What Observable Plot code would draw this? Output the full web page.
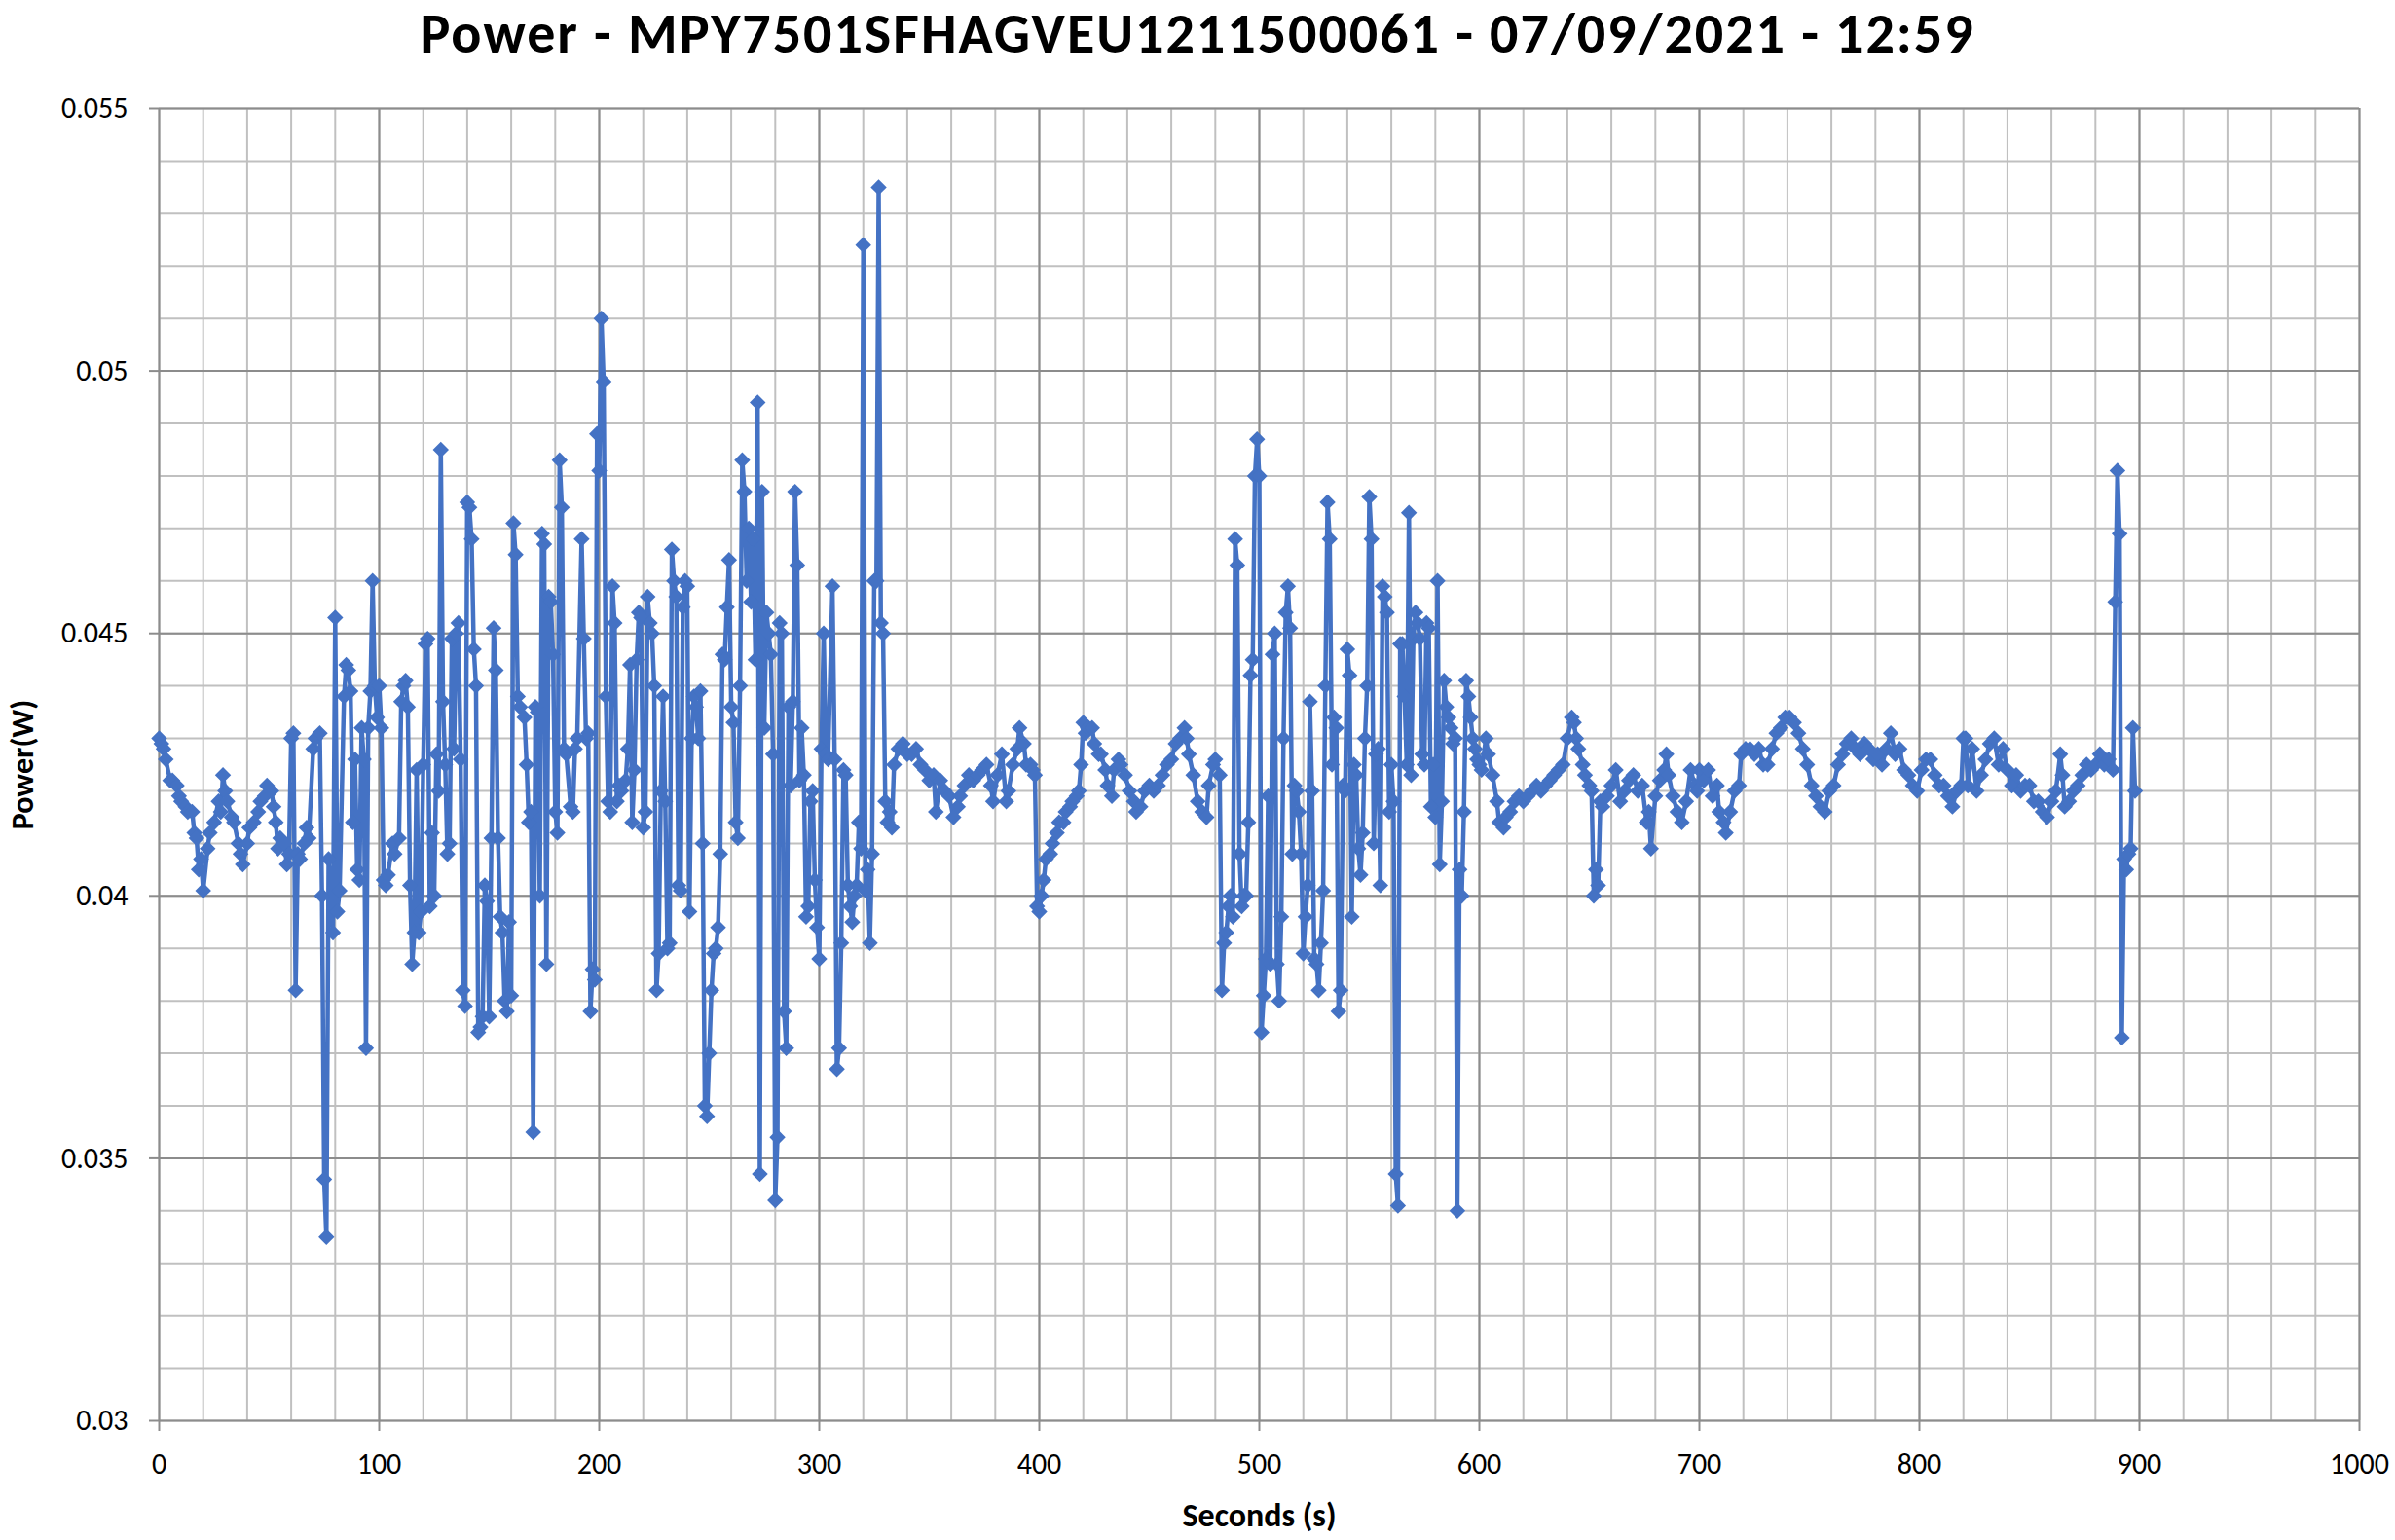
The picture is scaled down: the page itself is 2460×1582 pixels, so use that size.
<!DOCTYPE html>
<html>
<head>
<meta charset="utf-8">
<script src="https://cdn.jsdelivr.net/npm/d3@7"></script>
<script src="https://cdn.jsdelivr.net/npm/@observablehq/plot@0.6"></script>
<style>
  html, body { margin: 0; padding: 0; background: #ffffff; }
  #title {
    width: 2460px; height: 70px; line-height: 70px; text-align: center; overflow: visible;
    font-family: Carlito, Lato, "Open Sans", sans-serif; font-weight: 700; font-size: 58px;
    letter-spacing: 2px; color: #000;
  }
</style>
</head>
<body>
<div id="title">Power - MPY7501SFHAGVEU1211500061 - 07/09/2021 - 12:59</div>
<div id="chart"></div>
<script>
// [seconds, watts] readings, grouped by 100-second window
const run000 = [[0,0.0430],[1,0.0429],[2,0.0428],[3,0.0426],[5,0.0422],[6,0.0422],[8,0.0421],[9,0.0419],[10,0.0418],[12,0.0417],[13,0.0416],[15,0.0416],[16,0.0412],[17,0.0411],[18,0.0405],[19,0.0407],[20,0.0401],[22,0.0409],[23,0.0412],[25,0.0414],[27,0.0418],[28,0.0416],[29,0.0423],[30,0.0420],[31,0.0418],[33,0.0415],[34,0.0414],[36,0.0410],[37,0.0408],[38,0.0406],[40,0.0410],[41,0.0413],[43,0.0414],[45,0.0416],[46,0.0418],[48,0.0419],[49,0.0421],[51,0.0420],[52,0.0417],[53,0.0414],[54,0.0409],[55,0.0411],[57,0.0410],[58,0.0406],[59,0.0408],[60,0.0430],[61,0.0431],[62,0.0382],[63,0.0408],[64,0.0407],[66,0.0410],[67,0.0413],[68,0.0411],[70,0.0428],[71,0.0430],[73,0.0431],[74,0.0400],[75,0.0346],[76,0.0335],[77,0.0407],[79,0.0393],[80,0.0453],[81,0.0397],[82,0.0401],[84,0.0438],[85,0.0444],[86,0.0443],[87,0.0439],[88,0.0414],[89,0.0426],[90,0.0405],[91,0.0403],[92,0.0432],[93,0.0426],[94,0.0371],[95,0.0432],[96,0.0439],[97,0.0460],[98,0.0440],[99,0.0434]];
const run100 = [[100,0.0440],[101,0.0432],[102,0.0403],[103,0.0402],[104,0.0404],[106,0.0410],[107,0.0408],[109,0.0411],[110,0.0437],[111,0.0440],[112,0.0441],[113,0.0436],[114,0.0402],[115,0.0387],[116,0.0393],[117,0.0424],[118,0.0393],[119,0.0397],[120,0.0425],[121,0.0448],[122,0.0449],[123,0.0398],[124,0.0412],[125,0.0400],[126,0.0427],[127,0.0420],[128,0.0485],[129,0.0437],[130,0.0425],[131,0.0408],[132,0.0410],[133,0.0449],[134,0.0428],[135,0.0450],[136,0.0452],[137,0.0426],[138,0.0382],[139,0.0379],[140,0.0475],[141,0.0474],[142,0.0468],[143,0.0447],[144,0.0440],[145,0.0374],[146,0.0375],[147,0.0377],[148,0.0402],[149,0.0399],[150,0.0377],[151,0.0411],[152,0.0451],[153,0.0443],[154,0.0411],[155,0.0396],[156,0.0393],[157,0.0380],[158,0.0378],[159,0.0395],[160,0.0381],[161,0.0471],[162,0.0465],[163,0.0438],[164,0.0436],[166,0.0434],[167,0.0425],[168,0.0414],[169,0.0416],[170,0.0355],[171,0.0436],[172,0.0435],[173,0.0400],[174,0.0469],[175,0.0467],[176,0.0387],[177,0.0457],[178,0.0456],[179,0.0446],[180,0.0416],[181,0.0412],[182,0.0483],[183,0.0474],[184,0.0428],[185,0.0427],[187,0.0417],[188,0.0416],[189,0.0428],[190,0.0430],[192,0.0468],[193,0.0449],[194,0.0430],[195,0.0431],[196,0.0378],[197,0.0386],[198,0.0384],[199,0.0488]];
const run200 = [[200,0.0481],[201,0.0510],[202,0.0498],[203,0.0438],[204,0.0418],[205,0.0416],[206,0.0459],[207,0.0452],[208,0.0418],[209,0.0421],[210,0.0420],[212,0.0422],[213,0.0428],[214,0.0444],[215,0.0414],[216,0.0424],[217,0.0445],[218,0.0454],[219,0.0453],[220,0.0413],[221,0.0416],[222,0.0457],[223,0.0452],[224,0.0450],[225,0.0440],[226,0.0382],[227,0.0389],[228,0.0420],[229,0.0438],[230,0.0418],[231,0.0390],[232,0.0391],[233,0.0466],[234,0.0460],[235,0.0457],[236,0.0402],[237,0.0401],[238,0.0455],[239,0.0460],[240,0.0459],[241,0.0397],[242,0.0430],[243,0.0438],[244,0.0436],[245,0.0430],[246,0.0439],[247,0.0410],[248,0.0360],[249,0.0358],[250,0.0370],[251,0.0382],[252,0.0389],[253,0.0390],[254,0.0394],[255,0.0408],[256,0.0446],[257,0.0445],[258,0.0455],[259,0.0464],[260,0.0436],[261,0.0433],[262,0.0414],[263,0.0411],[264,0.0440],[265,0.0483],[266,0.0477],[267,0.0460],[268,0.0470],[269,0.0456],[270,0.0468],[271,0.0445],[272,0.0494],[273,0.0347],[274,0.0477],[275,0.0432],[276,0.0454],[277,0.0450],[278,0.0446],[279,0.0427],[280,0.0342],[281,0.0354],[282,0.0452],[283,0.0450],[284,0.0378],[285,0.0371],[286,0.0436],[287,0.0421],[288,0.0437],[289,0.0477],[290,0.0463],[291,0.0422],[292,0.0432],[293,0.0423],[294,0.0396],[295,0.0398],[296,0.0418],[297,0.0420],[298,0.0403],[299,0.0394]];
const run300 = [[300,0.0388],[301,0.0428],[302,0.0450],[303,0.0427],[304,0.0426],[306,0.0459],[307,0.0426],[308,0.0367],[309,0.0371],[310,0.0391],[311,0.0424],[312,0.0423],[313,0.0402],[314,0.0398],[315,0.0395],[316,0.0400],[317,0.0402],[318,0.0414],[319,0.0409],[320,0.0524],[321,0.0401],[322,0.0405],[323,0.0391],[324,0.0408],[325,0.0460],[326,0.0460],[327,0.0535],[328,0.0452],[329,0.0450],[330,0.0418],[331,0.0414],[332,0.0416],[333,0.0413],[334,0.0425],[336,0.0428],[338,0.0429],[340,0.0427],[342,0.0427],[344,0.0428],[346,0.0425],[348,0.0424],[350,0.0422],[352,0.0423],[353,0.0416],[355,0.0422],[357,0.0420],[359,0.0419],[361,0.0415],[363,0.0417],[364,0.0419],[366,0.0421],[368,0.0423],[370,0.0422],[372,0.0423],[374,0.0424],[376,0.0425],[378,0.0421],[379,0.0418],[381,0.0423],[383,0.0427],[385,0.0418],[386,0.0420],[388,0.0425],[390,0.0428],[391,0.0432],[393,0.0429],[394,0.0425],[396,0.0425],[397,0.0424],[398,0.0423],[399,0.0398]];
const run400 = [[400,0.0397],[401,0.0400],[402,0.0403],[403,0.0407],[405,0.0408],[406,0.0410],[408,0.0412],[409,0.0414],[411,0.0414],[412,0.0416],[414,0.0417],[415,0.0418],[417,0.0419],[418,0.0420],[419,0.0425],[420,0.0433],[421,0.0431],[422,0.0432],[424,0.0432],[425,0.0429],[427,0.0427],[428,0.0427],[430,0.0424],[431,0.0421],[433,0.0419],[434,0.0424],[436,0.0426],[437,0.0425],[439,0.0423],[441,0.0420],[443,0.0418],[444,0.0416],[446,0.0417],[448,0.0420],[450,0.0421],[452,0.0420],[454,0.0421],[456,0.0423],[458,0.0425],[460,0.0426],[462,0.0429],[464,0.0430],[466,0.0432],[467,0.0430],[468,0.0427],[470,0.0423],[472,0.0418],[474,0.0416],[476,0.0415],[477,0.0421],[479,0.0425],[480,0.0426],[482,0.0423],[483,0.0382],[484,0.0391],[485,0.0393],[486,0.0398],[487,0.0400],[488,0.0396],[489,0.0468],[490,0.0463],[491,0.0408],[492,0.0398],[493,0.0400],[494,0.0400],[495,0.0414],[496,0.0442],[497,0.0445],[498,0.0480],[499,0.0487]];
const run500 = [[500,0.0480],[501,0.0374],[502,0.0381],[503,0.0388],[504,0.0419],[505,0.0387],[506,0.0446],[507,0.0450],[508,0.0387],[509,0.0380],[510,0.0396],[511,0.0430],[512,0.0454],[513,0.0459],[514,0.0451],[515,0.0408],[516,0.0421],[517,0.0420],[518,0.0416],[519,0.0408],[520,0.0389],[521,0.0396],[522,0.0402],[523,0.0437],[524,0.0420],[525,0.0388],[526,0.0387],[527,0.0382],[528,0.0391],[529,0.0401],[530,0.0440],[531,0.0475],[532,0.0468],[533,0.0425],[534,0.0434],[535,0.0432],[536,0.0378],[537,0.0382],[538,0.0421],[539,0.0420],[540,0.0447],[541,0.0442],[542,0.0396],[543,0.0425],[544,0.0423],[545,0.0409],[546,0.0404],[547,0.0412],[548,0.0430],[549,0.0440],[550,0.0476],[551,0.0468],[552,0.0410],[553,0.0427],[554,0.0428],[555,0.0402],[556,0.0459],[557,0.0457],[558,0.0454],[559,0.0416],[560,0.0425],[561,0.0418],[562,0.0347],[563,0.0341],[564,0.0448],[565,0.0448],[566,0.0438],[567,0.0425],[568,0.0473],[569,0.0423],[570,0.0449],[571,0.0454],[572,0.0452],[573,0.0449],[574,0.0427],[575,0.0425],[576,0.0452],[577,0.0451],[578,0.0417],[579,0.0425],[580,0.0415],[581,0.0460],[582,0.0406],[583,0.0418],[584,0.0441],[585,0.0436],[586,0.0434],[587,0.0432],[588,0.0429],[589,0.0430],[590,0.0340],[591,0.0405],[592,0.0400],[593,0.0416],[594,0.0441],[595,0.0438],[596,0.0434],[597,0.0430],[598,0.0428],[599,0.0426]];
const run600 = [[600,0.0425],[601,0.0424],[603,0.0430],[604,0.0427],[606,0.0423],[608,0.0418],[609,0.0414],[611,0.0413],[612,0.0415],[614,0.0416],[616,0.0418],[618,0.0419],[620,0.0418],[622,0.0419],[624,0.0420],[626,0.0421],[628,0.0420],[630,0.0421],[632,0.0422],[634,0.0423],[636,0.0424],[638,0.0425],[640,0.0430],[642,0.0434],[643,0.0433],[644,0.0430],[645,0.0428],[647,0.0425],[648,0.0423],[650,0.0421],[651,0.0420],[652,0.0400],[653,0.0405],[654,0.0402],[655,0.0418],[656,0.0417],[658,0.0419],[660,0.0421],[662,0.0424],[664,0.0418],[666,0.0420],[668,0.0422],[670,0.0423],[672,0.0420],[674,0.0421],[676,0.0414],[677,0.0416],[678,0.0409],[680,0.0419],[682,0.0422],[684,0.0424],[685,0.0427],[686,0.0423],[688,0.0419],[690,0.0416],[692,0.0414],[694,0.0418],[696,0.0424],[698,0.0421],[699,0.0420]];
const run700 = [[700,0.0424],[702,0.0422],[704,0.0424],[706,0.0419],[708,0.0421],[709,0.0416],[711,0.0414],[712,0.0412],[714,0.0416],[716,0.0420],[718,0.0421],[719,0.0427],[721,0.0428],[723,0.0428],[725,0.0427],[727,0.0428],[729,0.0425],[731,0.0425],[733,0.0428],[735,0.0431],[737,0.0432],[739,0.0434],[741,0.0434],[743,0.0433],[745,0.0431],[747,0.0428],[749,0.0425],[751,0.0421],[753,0.0419],[755,0.0417],[757,0.0416],[759,0.0420],[761,0.0421],[763,0.0425],[765,0.0427],[767,0.0429],[769,0.0430],[771,0.0428],[773,0.0427],[775,0.0429],[777,0.0428],[779,0.0426],[781,0.0427],[783,0.0425],[785,0.0428],[787,0.0431],[789,0.0427],[791,0.0428],[793,0.0424],[795,0.0423],[797,0.0421],[799,0.0420]];
const run800 = [[801,0.0424],[803,0.0426],[805,0.0426],[807,0.0423],[809,0.0421],[811,0.0421],[813,0.0419],[815,0.0417],[817,0.0420],[819,0.0421],[820,0.0430],[821,0.0430],[822,0.0421],[824,0.0428],[826,0.0420],[828,0.0423],[830,0.0426],[832,0.0429],[834,0.0430],[836,0.0425],[838,0.0428],[840,0.0424],[842,0.0421],[844,0.0423],[846,0.0420],[848,0.0421],[850,0.0421],[852,0.0418],[854,0.0418],[856,0.0416],[858,0.0415],[860,0.0418],[862,0.0420],[864,0.0427],[865,0.0423],[866,0.0417],[868,0.0418],[870,0.0420],[872,0.0421],[874,0.0423],[876,0.0425],[878,0.0424],[880,0.0425],[882,0.0427],[884,0.0425],[886,0.0426],[888,0.0424],[889,0.0456],[890,0.0481],[891,0.0469],[892,0.0373],[893,0.0407],[894,0.0405],[895,0.0408],[896,0.0409],[897,0.0432],[898,0.0420]];

const xMajorTicks = [0, 100, 200, 300, 400, 500, 600, 700, 800, 900, 1000];
const yMajorTicks = [0.03, 0.035, 0.04, 0.045, 0.05, 0.055];
const xLabel = "Seconds (s)";
const yLabel = "Power(W)";

const readings = [...run000, ...run100, ...run200, ...run300, ...run400, ...run500, ...run600, ...run700, ...run800]
  .map(([s, w]) => ({s, w}));

const xMinor = d3.range(0, 1001, 20);
const yMinor = d3.range(30, 56, 1).map(v => v / 1000);

const blue = "#4472C4";
const major = "#8c8c8c";
const minor = "#c0c0c0";
const font = "Carlito, Lato, 'Open Sans', sans-serif";

const chart = Plot.plot({
  width: 2460,
  height: 1512,
  marginLeft: 163,
  marginRight: 37,
  marginTop: 41,
  marginBottom: 123,
  style: {fontFamily: font, fontSize: "30px", background: "#ffffff", color: "#000"},
  x: {domain: [0, 1000]},
  y: {domain: [0.03, 0.055]},
  marks: [
    Plot.gridX(xMinor, {stroke: minor, strokeOpacity: 1, strokeWidth: 2}),
    Plot.gridY(yMinor, {stroke: minor, strokeOpacity: 1, strokeWidth: 2}),
    Plot.gridX(xMajorTicks, {stroke: major, strokeOpacity: 1, strokeWidth: 2}),
    Plot.gridY(yMajorTicks, {stroke: major, strokeOpacity: 1, strokeWidth: 2}),
    Plot.axisX(xMajorTicks, {tickSize: 11, tickPadding: 22, stroke: major, strokeWidth: 2, fill: "#000", fontSize: 30, label: null, tickFormat: d => String(d)}),
    Plot.axisY(yMajorTicks, {tickSize: 10, tickPadding: 22, stroke: major, strokeWidth: 2, fill: "#000", fontSize: 30, label: null, tickFormat: d => String(d)}),
    Plot.line(readings, {x: "s", y: "w", stroke: blue, strokeWidth: 4.5, strokeLinejoin: "round"}),
    Plot.dot(readings, {x: "s", y: "w", symbol: "diamond2", r: 7.4, fill: blue, stroke: "none"}),
    Plot.text([xLabel], {frameAnchor: "bottom", dy: 98, lineAnchor: "middle", textAnchor: "middle", text: d => d, fontWeight: "bold", fontSize: 34, fill: "#000"}),
    Plot.text([yLabel], {frameAnchor: "left", dx: -140, rotate: -90, lineAnchor: "middle", textAnchor: "middle", text: d => d, fontWeight: "bold", fontSize: 32, fill: "#000"})
  ]
});
document.getElementById("chart").appendChild(chart);
</script>
</body>
</html>
